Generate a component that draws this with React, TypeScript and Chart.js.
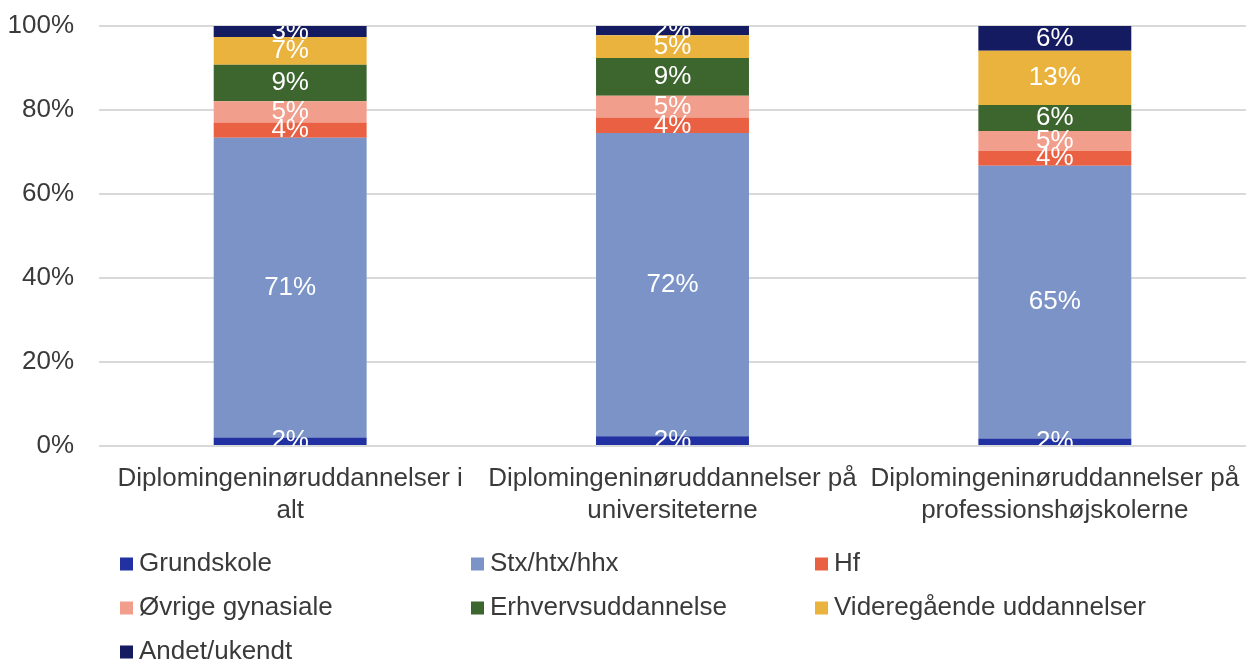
import { useEffect, useRef } from "react";
import { Chart, registerables } from "chart.js";

Chart.register(...registerables);

// ---- Data ----
const categories: string[][] = [
  ["Diplomingeninøruddannelser i", "alt"],
  ["Diplomingeninøruddannelser på", "universiteterne"],
  ["Diplomingeninøruddannelser på", "professionshøjskolerne"],
];

const seriesNames = [
  "Grundskole",
  "Stx/htx/hhx",
  "Hf",
  "Øvrige gynasiale",
  "Erhvervsuddannelse",
  "Videregående uddannelser",
  "Andet/ukendt",
];

const grundskole = [2.0, 2.3, 1.8];
const stx = [71.4, 72.2, 64.9];
const hf = [3.6, 3.7, 3.6];
const ovrige = [5.1, 5.2, 4.7];
const erhverv = [8.7, 9.0, 6.2];
const videregaaende = [6.6, 5.4, 12.9];
const andet = [2.6, 2.2, 5.9];

const yTickStep = 20;
const yMin = 0;
const yMax = 100;

// ---- Styles ----
const seriesColors = [
  "#2131A1",
  "#7B93C6",
  "#E96043",
  "#F29E8C",
  "#3C662D",
  "#EAB33D",
  "#141B60",
];

const FONT_FAMILY = "'Liberation Sans', Arial, sans-serif";
const FONT_SIZE = 26;
const TEXT_COLOR = "#3a3a3a";
const GRID_COLOR = "#d9d9d9";
const W = 1246;
const H = 665;

const LEGEND_COL_X = [120, 471, 815];
const LEGEND_ROW_Y0 = 564;
const LEGEND_ROW_H = 44;
const LEGEND_BOX = 13;

const dataLabelPlugin = {
  id: "segLabels",
  afterDatasetsDraw(chart: any) {
    const { ctx, chartArea } = chart;
    ctx.save();
    ctx.beginPath();
    ctx.rect(
      chartArea.left,
      chartArea.top,
      chartArea.right - chartArea.left,
      chartArea.bottom - chartArea.top
    );
    ctx.clip();
    ctx.font = `${FONT_SIZE}px ${FONT_FAMILY}`;
    ctx.fillStyle = "#ffffff";
    ctx.textAlign = "center";
    ctx.textBaseline = "middle";
    chart.data.datasets.forEach((ds: any, i: number) => {
      const meta = chart.getDatasetMeta(i);
      meta.data.forEach((el: any, j: number) => {
        const v = ds.data[j] as number;
        const p = el.getProps(["x", "y", "base"], true);
        ctx.fillText(Math.round(v) + "%", p.x, (p.y + p.base) / 2);
      });
    });
    ctx.restore();
  },
};

const gridLegendPlugin = {
  id: "gridLegend",
  afterDraw(chart: any) {
    const { ctx } = chart;
    ctx.save();
    ctx.font = `${FONT_SIZE}px ${FONT_FAMILY}`;
    ctx.textAlign = "left";
    ctx.textBaseline = "middle";
    chart.data.datasets.forEach((ds: any, i: number) => {
      const col = i % 3;
      const row = Math.floor(i / 3);
      const x = LEGEND_COL_X[col];
      const y = LEGEND_ROW_Y0 + row * LEGEND_ROW_H;
      ctx.fillStyle = ds.backgroundColor;
      ctx.fillRect(x, y - LEGEND_BOX / 2, LEGEND_BOX, LEGEND_BOX);
      ctx.fillStyle = TEXT_COLOR;
      ctx.fillText(ds.label, x + LEGEND_BOX + 6, y);
    });
    ctx.restore();
  },
};

export default function App() {
  const canvasRef = useRef<HTMLCanvasElement | null>(null);

  useEffect(() => {
    document.body.style.margin = "0";
    document.body.style.overflow = "hidden";
    const canvas = canvasRef.current;
    if (!canvas) return;

    const seriesValues = [grundskole, stx, hf, ovrige, erhverv, videregaaende, andet];

    const chart = new Chart(canvas, {
      type: "bar",
      data: {
        labels: categories,
        datasets: seriesNames.map((name, i) => ({
          label: name,
          data: seriesValues[i],
          backgroundColor: seriesColors[i],
          borderWidth: 0,
          barPercentage: 0.4,
          categoryPercentage: 1,
        })),
      },
      options: {
        animation: false,
        responsive: true,
        maintainAspectRatio: false,
        layout: { padding: { top: 26, right: 0, bottom: 0, left: 0 } },
        plugins: {
          legend: { display: false },
          tooltip: { enabled: false },
        },
        scales: {
          x: {
            stacked: true,
            grid: { display: false, drawTicks: false },
            border: { display: false },
            ticks: {
              color: TEXT_COLOR,
              font: { family: FONT_FAMILY, size: FONT_SIZE, lineHeight: 1.22 },
              padding: 17,
              maxRotation: 0,
              autoSkip: false,
            },
            afterFit: (s: any) => {
              s.height = H - 446;
              s.paddingLeft = 0;
              s.paddingRight = 0;
            },
          },
          y: {
            stacked: true,
            min: yMin,
            max: yMax,
            grid: { color: GRID_COLOR, lineWidth: 2, drawTicks: false },
            border: { display: false },
            ticks: {
              stepSize: yTickStep,
              color: TEXT_COLOR,
              font: { family: FONT_FAMILY, size: FONT_SIZE },
              padding: 25,
              callback: (v: any) => v + "%",
            },
            afterFit: (s: any) => {
              s.width = 99;
              s.paddingTop = 0;
              s.paddingBottom = 0;
            },
          },
        },
      },
      plugins: [dataLabelPlugin, gridLegendPlugin],
    });

    return () => chart.destroy();
  }, []);

  return (
    <div style={{ width: W, height: H, position: "relative" }}>
      <canvas ref={canvasRef} style={{ display: "block" }} />
    </div>
  );
}
